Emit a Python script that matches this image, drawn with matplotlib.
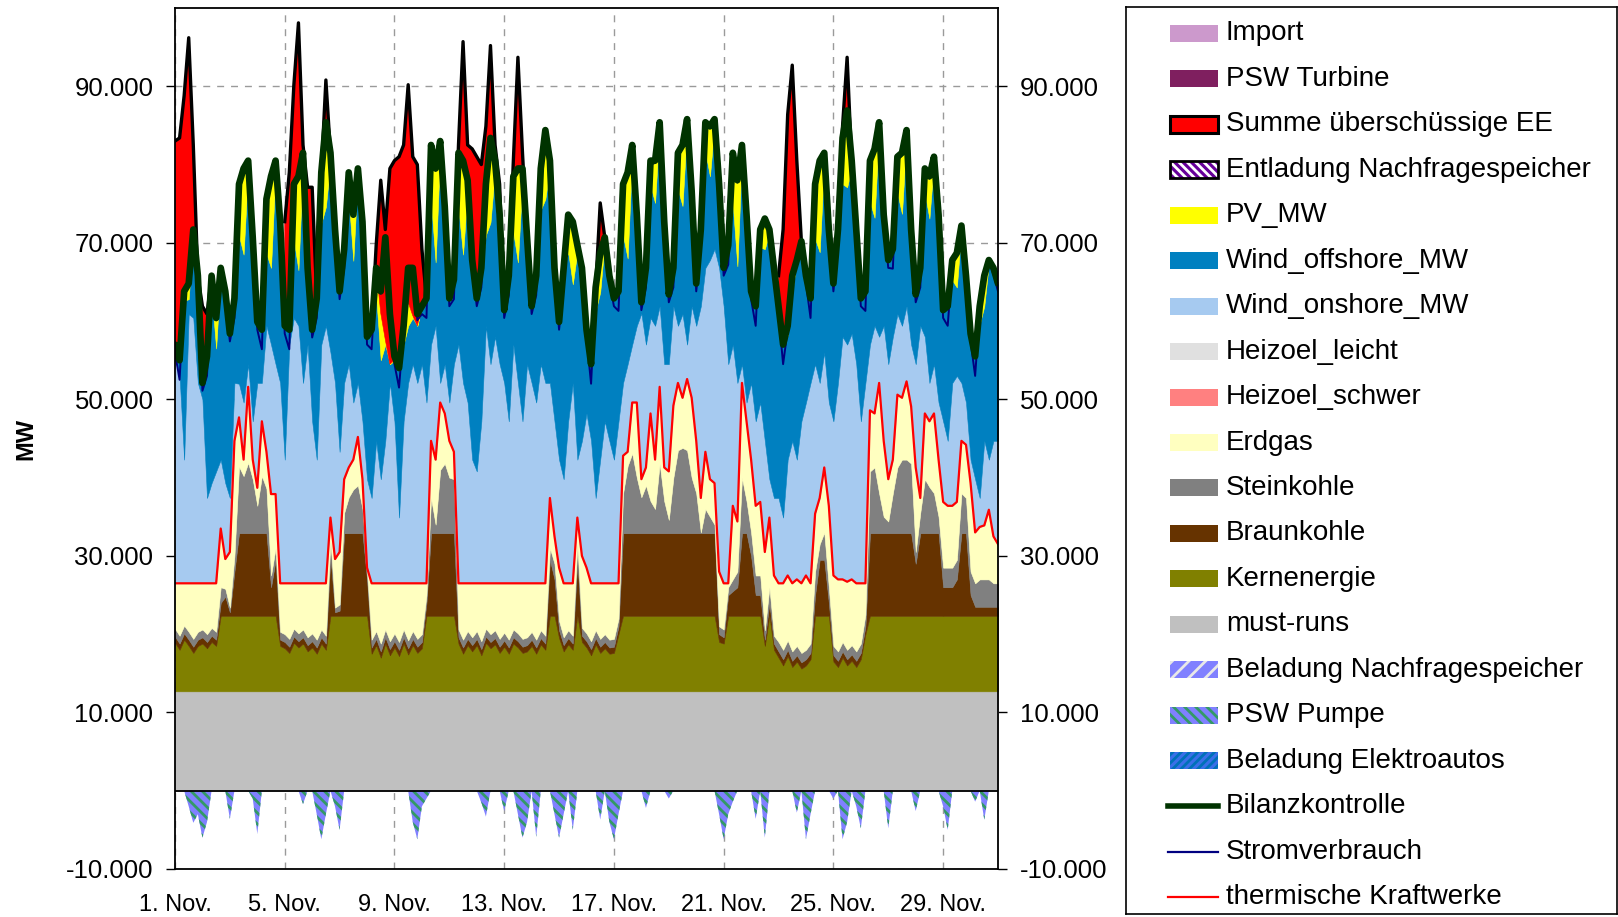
import numpy as np
import matplotlib
matplotlib.use("Agg")
import matplotlib.pyplot as plt
from matplotlib.patches import Rectangle
from matplotlib.lines import Line2D

plt.rcParams['font.family'] = ['Liberation Sans', 'DejaVu Sans']
plt.rcParams['hatch.linewidth'] = 2.0

nan = np.nan
STEP_H = 4  # readings every 4 hours: 0h, 4h, 8h, 12h, 16h, 20h of each day

tick_days = [0, 4, 8, 12, 16, 20, 24, 28]
tick_labels = ['1. Nov.', '5. Nov.', '9. Nov.', '13. Nov.', '17. Nov.', '21. Nov.', '25. Nov.', '29. Nov.']
y_ticks = [-10000, 10000, 30000, 50000, 70000, 90000]
y_labels = ['-10.000', '10.000', '30.000', '50.000', '70.000', '90.000']

must_runs = 12700

# Bilanzkontrolle (MW), per day 0h,4h,8h,12h,16h,20h
bilanz_daily = [
    [57000, 55000, 63800, 64800, 71700, 65800],
    [52100, 55500, 65800, 60400, 66800, 63800],
    [58400, 62900, 77500, 79500, 80500, 70700],
    [59900, 58900, 75600, 78500, 80500, 72700],
    [59400, 58900, 77500, 78500, 81500, 66800],
    [58900, 62900, 79000, 85400, 81500, 71700],
    [63800, 69200, 79000, 73600, 79500, 72700],
    [58000, 58900, 66800, 63800, 70700, 60900],
    [55500, 54000, 59400, 66800, 66800, 60900],
    [61900, 62900, 82500, 79500, 83000, 74600],
    [62900, 65300, 81500, 80500, 78000, 67800],
    [62900, 66800, 77500, 83400, 80500, 73600],
    [61400, 65800, 78500, 79500, 79500, 70700],
    [61900, 65800, 79500, 84400, 80500, 66800],
    [59900, 66800, 73600, 72700, 69700, 66800],
    [58900, 54500, 64300, 68700, 70700, 65800],
    [62900, 63800, 77500, 79000, 82500, 73600],
    [62400, 66800, 80500, 80500, 85400, 72700],
    [63400, 66800, 81500, 82500, 85800, 76600],
    [64800, 71700, 85400, 84900, 85800, 77500],
    [66800, 69700, 81500, 78000, 82500, 73600],
    [63800, 61900, 71700, 73100, 71700, 66800],
    [61900, 57000, 59400, 65800, 67800, 70200],
    [65800, 62900, 77500, 80500, 81500, 71700],
    [64800, 71700, 83400, 86900, 80500, 71700],
    [62900, 63800, 80500, 82000, 85400, 73600],
    [67800, 69200, 81000, 81500, 84400, 71700],
    [63400, 66800, 79500, 78500, 81000, 73600],
    [61400, 61900, 67800, 68700, 72200, 65800],
    [58400, 55500, 61900, 65800, 67800, 66800],
]
bilanz_end = 64800

verbrauch_daily = [
    [56000, 52500, 63300, 64500, 71400, 65000],
    [51100, 53000, 65300, 60100, 66500, 63000],
    [57400, 60400, 77000, 79200, 80200, 69900],
    [58900, 56400, 75100, 78200, 80200, 71900],
    [58400, 56400, 77000, 78200, 81200, 66000],
    [57900, 60400, 78500, 85100, 81200, 70900],
    [62800, 66700, 78500, 73300, 79200, 71900],
    [57000, 56400, 66300, 63500, 70400, 60100],
    [54500, 51500, 58900, 66500, 66500, 60100],
    [60900, 60400, 82000, 79200, 82700, 73800],
    [61900, 62800, 81000, 80200, 77700, 67000],
    [61900, 64300, 77000, 83100, 80200, 72800],
    [60400, 63300, 78000, 79200, 79200, 69900],
    [60900, 63300, 79000, 84100, 80200, 66000],
    [58900, 64300, 73100, 72400, 69400, 66000],
    [57900, 52000, 63800, 68400, 70400, 65000],
    [61900, 61300, 77000, 78700, 82200, 72800],
    [61400, 64300, 80000, 80200, 85100, 71900],
    [62400, 64300, 81000, 82200, 85500, 75800],
    [63800, 69200, 84900, 84600, 85500, 76700],
    [65800, 67200, 81000, 77700, 82200, 72800],
    [62800, 59400, 71200, 72800, 71400, 66000],
    [60900, 54500, 58900, 65500, 67500, 69400],
    [64800, 60400, 77000, 80200, 81200, 70900],
    [63800, 69200, 82900, 86600, 80200, 70900],
    [61900, 61300, 80000, 81700, 85100, 72800],
    [66800, 66700, 80500, 81200, 84100, 70900],
    [62400, 64300, 79000, 78200, 80700, 72800],
    [60400, 59400, 67300, 68400, 71900, 65000],
    [57400, 53000, 61400, 65500, 67500, 66000],
]
verbrauch_end = 63800

# top of the "Summe ueberschuessige EE" area (nan = none)
surplus_daily = [
    [83000, 83400, 88800, 96200, 82500, 65800],
    [61900, 60900, 65800, nan, nan, nan],
    [nan, nan, nan, nan, nan, nan],
    [nan, nan, nan, nan, nan, nan],
    [72700, 79000, 90200, 98100, 82500, 77100],
    [77100, 62900, 79000, 90800, 81500, nan],
    [nan, nan, nan, nan, nan, nan],
    [nan, 58900, 69700, 78000, 71700, 79500],
    [80500, 81000, 82500, 90200, 81000, 80000],
    [69200, 62900, nan, nan, nan, nan],
    [nan, 65300, 82500, 95700, 82500, 82000],
    [81000, 80000, 84900, 95200, 82500, 77500],
    [61400, 65800, 80500, 93700, 81500, 70700],
    [nan, nan, nan, nan, nan, nan],
    [nan, nan, nan, nan, nan, nan],
    [nan, nan, 64300, 75100, 70700, nan],
    [nan, nan, nan, nan, nan, nan],
    [nan, nan, nan, nan, nan, nan],
    [nan, nan, nan, nan, nan, nan],
    [nan, nan, nan, nan, nan, nan],
    [nan, nan, nan, nan, nan, nan],
    [nan, nan, nan, nan, nan, nan],
    [65800, 71700, 86400, 92700, 80500, 70200],
    [nan, nan, nan, nan, nan, nan],
    [nan, 71700, 84900, 93700, 80500, nan],
    [nan, nan, nan, nan, nan, nan],
    [nan, nan, nan, nan, nan, nan],
    [nan, nan, nan, nan, nan, nan],
    [nan, nan, nan, nan, nan, nan],
    [nan, nan, nan, nan, nan, nan],
]
surplus_end = nan

pv_daily = [
    [0, 0, 1200, 2000, 200, 0], [0, 0, 2300, 3900, 400, 0], [0, 0, 6600, 11000, 1100, 0],
    [0, 0, 7000, 11700, 1200, 0], [0, 0, 7200, 12000, 1200, 0], [0, 0, 6500, 10800, 1100, 0],
    [0, 0, 3500, 5900, 600, 0], [0, 0, 3600, 6000, 600, 0], [0, 0, 1800, 3000, 300, 0],
    [0, 0, 7200, 12000, 1200, 0], [0, 0, 7200, 12000, 1200, 0], [0, 0, 6500, 10800, 1100, 0],
    [0, 0, 7200, 12000, 1200, 0], [0, 0, 5300, 8800, 900, 0], [0, 0, 4800, 8000, 800, 0],
    [0, 0, 3000, 5000, 500, 0], [0, 0, 6600, 11000, 1100, 0], [0, 0, 3200, 5400, 500, 0],
    [0, 0, 4700, 7800, 800, 0], [0, 0, 3800, 6400, 600, 0], [0, 0, 6600, 11000, 1100, 0],
    [0, 0, 2300, 3900, 400, 0], [0, 0, 1200, 2000, 200, 0], [0, 0, 7000, 11700, 1200, 0],
    [0, 0, 5900, 9800, 1000, 0], [0, 0, 5300, 8800, 900, 0], [0, 0, 4700, 7800, 800, 0],
    [0, 0, 3200, 5400, 500, 0], [0, 0, 2600, 4400, 400, 0], [0, 0, 2300, 3900, 400, 0],
]
pv_end = 0

offshore_top_daily = [
    [57000, 55000, 62600, 62800, 71500, 65800],
    [52100, 55500, 63500, 56500, 66400, 63800],
    [58400, 62900, 70900, 68500, 79400, 70700],
    [59900, 58900, 68600, 66800, 79300, 72700],
    [59400, 58900, 70300, 66500, 80300, 66800],
    [58900, 62900, 72500, 74600, 80400, 71700],
    [63800, 69200, 75500, 67700, 78900, 72700],
    [58000, 58900, 63200, 55000, 57000, 54500],
    [55000, 54000, 57000, 59400, 60400, 59400],
    [61900, 62900, 75300, 67500, 81800, 74600],
    [62900, 65300, 74300, 68500, 76800, 67800],
    [62900, 66800, 71000, 72600, 79400, 73600],
    [61400, 65800, 71300, 67500, 78300, 70700],
    [61900, 65800, 74200, 75600, 79600, 66800],
    [59900, 66800, 68800, 64700, 68900, 66800],
    [58900, 54500, 61300, 63700, 70200, 65800],
    [62900, 63800, 70900, 68000, 81400, 73600],
    [62400, 66800, 77300, 75100, 84900, 72700],
    [63400, 66800, 76800, 74700, 85000, 76600],
    [64800, 71700, 81600, 78500, 85200, 77500],
    [66800, 69700, 74900, 67000, 81400, 73600],
    [63800, 61900, 69400, 69200, 71300, 66800],
    [61900, 57000, 58200, 63800, 67600, 70200],
    [65800, 62900, 70500, 68800, 80300, 71700],
    [64800, 71700, 77500, 77100, 79500, 71700],
    [62900, 63800, 75200, 73200, 84500, 73600],
    [67800, 69200, 76300, 73700, 83600, 71700],
    [63400, 66800, 76300, 73100, 80500, 73600],
    [61400, 61900, 65200, 64300, 71800, 65800],
    [58400, 55500, 59600, 61900, 67400, 66800],
]
offshore_top_end = 64800

onshore_top_daily = [
    [55000, 53000, 42300, 60900, 60400, 52100],
    [50000, 37400, 39300, 40800, 42300, 39300],
    [37400, 52100, 52000, 49600, 54500, 47200],
    [52100, 52100, 59400, 57000, 54500, 52100],
    [42300, 57000, 60400, 59400, 52100, 57000],
    [47200, 42300, 57000, 59400, 56000, 52100],
    [43300, 52100, 54500, 49600, 52100, 47200],
    [39800, 37400, 44700, 39800, 44700, 52100],
    [47200, 34900, 47200, 52100, 54500, 52100],
    [54500, 49600, 57000, 59400, 52100, 54500],
    [49600, 54500, 57000, 52100, 49600, 42300],
    [40800, 47200, 59400, 54500, 58000, 54500],
    [52100, 47200, 57000, 52100, 47200, 54500],
    [52100, 49600, 54500, 52100, 52100, 47200],
    [42300, 39800, 47200, 52100, 42300, 44700],
    [48200, 44700, 37400, 42300, 47200, 44700],
    [42300, 47200, 52100, 54500, 57000, 59400],
    [61000, 57000, 60400, 59400, 61900, 54500],
    [54500, 61900, 59400, 60900, 57000, 61900],
    [59400, 61900, 66800, 67800, 69200, 66800],
    [61900, 54500, 57000, 52100, 54500, 49600],
    [52100, 47200, 49600, 44700, 39800, 37400],
    [37400, 34900, 42300, 44700, 42300, 47200],
    [49600, 52100, 54500, 52100, 56000, 49600],
    [47200, 52100, 58000, 57000, 58400, 54500],
    [47200, 52100, 57000, 59400, 58000, 59400],
    [54500, 58000, 60900, 59400, 61900, 57000],
    [54500, 59400, 58000, 52100, 54500, 49600],
    [47200, 44700, 52100, 53000, 52100, 49600],
    [42300, 39800, 37400, 44700, 42300, 44700],
]
onshore_top_end = 44700

# thermische Kraftwerke (top of Erdgas)
thermal_daily = [
    [26500, 26500, 26500, 26500, 26500, 26500],
    [26500, 26500, 26500, 26500, 33500, 29600],
    [30500, 44700, 47700, 42300, 51600, 42300],
    [38700, 47200, 43300, 37900, 37900, 26500],
    [26500, 26500, 26500, 26500, 26500, 26500],
    [26500, 26500, 26500, 26500, 34900, 29600],
    [30500, 39800, 41300, 42300, 45200, 39800],
    [28500, 26500, 26500, 26500, 26500, 26500],
    [26500, 26500, 26500, 26500, 26500, 26500],
    [26500, 26500, 44700, 42300, 49600, 48200],
    [44700, 43300, 26500, 26500, 26500, 26500],
    [26500, 26500, 26500, 26500, 26500, 26500],
    [26500, 26500, 26500, 26500, 26500, 26500],
    [26500, 26500, 26500, 26500, 37400, 32500],
    [28500, 26500, 26500, 26500, 34900, 30000],
    [28500, 26500, 26500, 26500, 26500, 26500],
    [26500, 26500, 42800, 43300, 49600, 49600],
    [39800, 41300, 48200, 42300, 51600, 41300],
    [40800, 49200, 52100, 50200, 52600, 50200],
    [44700, 37400, 43300, 39800, 39300, 28000],
    [26500, 26500, 36400, 34400, 52100, 47200],
    [42300, 36400, 36900, 30500, 34900, 27500],
    [26500, 26500, 27500, 26500, 27000, 26500],
    [27500, 26500, 35400, 37400, 41300, 36400],
    [27500, 27000, 27000, 26700, 27000, 26500],
    [26500, 26500, 48600, 48200, 52100, 44700],
    [39800, 42300, 50600, 50200, 52300, 49100],
    [41300, 37400, 48200, 47200, 48200, 42300],
    [36900, 36400, 36400, 36900, 44700, 44200],
    [39300, 33000, 33700, 33900, 35900, 32500],
]
thermal_end = 31500

stein_top_daily = [
    [20700, 19800, 21100, 20300, 19400, 20300],
    [20600, 20000, 20800, 20300, 26000, 25800],
    [23400, 30000, 41400, 40200, 41900, 39800],
    [36400, 40200, 38600, 27500, 31000, 20300],
    [20000, 19400, 20700, 20100, 20600, 19600],
    [20100, 19300, 20600, 19800, 32000, 23400],
    [23800, 35500, 37500, 38500, 39000, 36000],
    [28000, 19300, 20400, 18800, 20600, 19100],
    [20100, 19000, 20600, 19200, 20400, 19400],
    [20000, 25000, 37400, 34000, 41000, 41800],
    [40000, 39800, 20600, 19300, 20400, 19600],
    [20400, 19100, 20700, 20000, 20500, 19400],
    [20200, 19300, 20600, 20100, 19400, 19600],
    [20300, 19300, 20500, 19800, 31000, 29000],
    [21700, 19600, 20500, 19800, 31500, 20800],
    [20100, 19100, 20500, 19400, 20000, 19300],
    [19400, 22000, 38000, 41500, 43100, 40000],
    [37500, 39000, 37000, 36000, 41800, 37000],
    [34600, 40000, 43500, 43800, 43500, 40000],
    [38000, 33000, 36000, 35000, 34000, 21000],
    [20600, 26000, 27000, 28000, 40000, 37000],
    [33000, 27500, 27500, 20500, 26000, 19800],
    [19000, 18000, 19200, 17800, 18500, 17600],
    [18000, 18800, 28000, 31500, 33000, 26000],
    [18500, 17800, 19000, 18000, 18600, 17800],
    [18800, 22500, 40800, 41300, 38000, 35000],
    [34400, 38000, 41300, 42300, 42300, 41800],
    [30500, 35500, 39800, 38800, 38000, 35000],
    [28500, 28500, 28500, 29500, 38000, 37400],
    [28000, 26500, 27000, 27000, 27000, 26500],
]
stein_top_end = 26500

braun_top_daily = [
    [19700, 18800, 20100, 19300, 18400, 19300],
    [19600, 19000, 19800, 19300, 24000, 24800],
    [22800, 28000, 32900, 32900, 32900, 32900],
    [32900, 32900, 32900, 26000, 29500, 19300],
    [19000, 18400, 19700, 19100, 19600, 18600],
    [19100, 18300, 19600, 18800, 30000, 22800],
    [23000, 32900, 32900, 32900, 32900, 32900],
    [27000, 18300, 19400, 17800, 19600, 18100],
    [19100, 18000, 19600, 18200, 19400, 18400],
    [19000, 24000, 32900, 32900, 32900, 32900],
    [32900, 32900, 19600, 18300, 19400, 18600],
    [19400, 18100, 19700, 19000, 19500, 18400],
    [19200, 18300, 19600, 19100, 18400, 18600],
    [19300, 18300, 19500, 18800, 29500, 27000],
    [20500, 18600, 19500, 18800, 29500, 19800],
    [19100, 18100, 19500, 18400, 19000, 18300],
    [18400, 21000, 32900, 32900, 32900, 32900],
    [32900, 32900, 32900, 32900, 32900, 32900],
    [32900, 32900, 32900, 32900, 32900, 32900],
    [32900, 32900, 32900, 32900, 32900, 20000],
    [19600, 25000, 25500, 26000, 32900, 32900],
    [30000, 25000, 25000, 19300, 24000, 18800],
    [17800, 16800, 18000, 16600, 17300, 16400],
    [16800, 17600, 25000, 29500, 29500, 24000],
    [17300, 16600, 17800, 16800, 17400, 16600],
    [17600, 21000, 32900, 32900, 32900, 32900],
    [32900, 32900, 32900, 32900, 32900, 32900],
    [29000, 32900, 32900, 32900, 32900, 32900],
    [26000, 26000, 26000, 27000, 32900, 32900],
    [25000, 23500, 23500, 23500, 23500, 23500],
]
braun_top_end = 23500

kern_top_daily = [
    [18900, 18000, 19300, 18500, 17600, 18500],
    [18800, 18200, 19000, 18500, 22350, 22350],
    [22350, 22350, 22350, 22350, 22350, 22350],
    [22350, 22350, 22350, 22350, 22350, 18500],
    [18200, 17600, 18900, 18300, 18800, 17800],
    [18300, 17500, 18800, 18000, 22350, 22350],
    [22350, 22350, 22350, 22350, 22350, 22350],
    [22350, 17500, 18600, 17000, 18800, 17300],
    [18300, 17200, 18800, 17400, 18600, 17600],
    [18200, 22350, 22350, 22350, 22350, 22350],
    [22350, 22350, 18800, 17500, 18600, 17800],
    [18600, 17300, 18900, 18200, 18700, 17600],
    [18400, 17500, 18800, 18300, 17600, 17800],
    [18500, 17500, 18700, 18000, 22350, 22350],
    [19500, 17800, 18700, 18000, 22350, 19000],
    [18300, 17300, 18700, 17600, 18200, 17500],
    [17600, 20000, 22350, 22350, 22350, 22350],
    [22350, 22350, 22350, 22350, 22350, 22350],
    [22350, 22350, 22350, 22350, 22350, 22350],
    [22350, 22350, 22350, 22350, 22350, 19000],
    [18800, 22350, 22350, 22350, 22350, 22350],
    [22350, 22350, 22350, 18500, 22350, 18000],
    [17000, 16000, 17200, 15800, 16500, 15600],
    [16000, 16800, 22350, 22350, 22350, 22350],
    [16500, 15800, 17000, 16000, 16600, 15800],
    [16800, 20000, 22350, 22350, 22350, 22350],
    [22350, 22350, 22350, 22350, 22350, 22350],
    [22350, 22350, 22350, 22350, 22350, 22350],
    [22350, 22350, 22350, 22350, 22350, 22350],
    [22350, 22350, 22350, 22350, 22350, 22350],
]
kern_top_end = 22350

pumpe_daily = [
    [0, 0, 0, -2000, -4100, -3000],
    [-6000, -4000, 0, 0, 0, 0],
    [-3600, 0, 0, 0, 0, -1000],
    [-5500, 0, 0, 0, 0, 0],
    [0, 0, 0, 0, -1700, 0],
    [0, -3000, -6200, -3000, 0, -2000],
    [-5000, 0, 0, 0, 0, 0],
    [0, 0, 0, 0, 0, 0],
    [0, 0, 0, 0, -4000, -6200],
    [-2000, -1000, 0, 0, 0, 0],
    [0, 0, 0, 0, 0, 0],
    [0, -1500, -3300, 0, 0, 0],
    [-2600, 0, 0, -3000, -6000, -4000],
    [0, -5900, 0, 0, 0, -3000],
    [-6000, -3000, 0, -5000, 0, 0],
    [0, 0, 0, -3700, 0, -4000],
    [-6200, -3000, 0, 0, 0, 0],
    [0, -2200, 0, 0, 0, 0],
    [-1000, 0, 0, 0, 0, 0],
    [0, 0, 0, 0, 0, -3000],
    [-6200, -3000, -1400, 0, 0, 0],
    [0, -3600, 0, -6000, 0, 0],
    [0, 0, 0, 0, -2800, 0],
    [-6200, -3000, 0, 0, 0, 0],
    [-1000, 0, -6200, -4000, 0, -2000],
    [-4800, 0, 0, 0, 0, 0],
    [-4800, 0, 0, 0, 0, 0],
    [-2600, 0, 0, 0, 0, 0],
    [-2000, -5000, 0, 0, 0, 0],
    [0, -1400, 0, -3700, 0, 0],
]
pumpe_end = 0


def series(daily, last):
    return np.array([v for day in daily for v in day] + [last], dtype=float)


bilanz = series(bilanz_daily, bilanz_end)
verbrauch = series(verbrauch_daily, verbrauch_end)
surplus_top = series(surplus_daily, surplus_end)
pv = series(pv_daily, pv_end)
offshore_top = series(offshore_top_daily, offshore_top_end)
onshore_top = series(onshore_top_daily, onshore_top_end)
thermal = series(thermal_daily, thermal_end)
stein_top = series(stein_top_daily, stein_top_end)
braun_top = series(braun_top_daily, braun_top_end)
kern_top = series(kern_top_daily, kern_top_end)
pumpe = series(pumpe_daily, pumpe_end)

hours = np.arange(len(bilanz)) * STEP_H
x = hours / 24.0
pv_top = offshore_top + pv
base = np.zeros_like(x)
mr = np.full_like(x, must_runs)

W, H = 1618, 917
fig = plt.figure(figsize=(W / 100, H / 100), dpi=100)
ax = fig.add_axes([175 / W, 1 - 869 / H, (998 - 175) / W, (869 - 8) / H])

def band(lo, hi, color, **kw):
    ax.fill_between(x, lo, hi, facecolor=color, edgecolor=color, linewidth=0.4, zorder=2, **kw)

band(base, mr, '#c0c0c0')
band(mr, kern_top, '#808000')
band(kern_top, braun_top, '#663300')
band(braun_top, stein_top, '#808080')
band(stein_top, thermal, '#ffffc0')
band(thermal, onshore_top, '#a6caf0')
band(onshore_top, offshore_top, '#0080c0')
band(offshore_top, pv_top, '#ffff00')
valid = ~np.isnan(surplus_top)
ax.fill_between(x, pv_top, np.where(valid, surplus_top, pv_top), where=valid,
                facecolor='#ff0000', edgecolor='#ff0000', linewidth=0.4, zorder=2.5)
ax.plot(x, surplus_top, color='black', lw=2.4, zorder=3)

ax.fill_between(x, pumpe, 0, facecolor='#8080ff', edgecolor='#339966', hatch='\\\\\\',
                linewidth=0, zorder=2)

ax.plot(x, thermal, color='#ff0000', lw=1.6, zorder=4)
ax.plot(x, verbrauch, color='#000080', lw=1.4, zorder=4)
ax.plot(x, bilanz, color='#003300', lw=4.8, zorder=5, solid_joinstyle='round',
        solid_capstyle='round')
ax.axhline(0, color='black', lw=1.3, zorder=6)

ax.set_xlim(0, 30)
ax.set_ylim(-10000, 100000)
ax.set_xticks(tick_days)
ax.set_xticklabels(tick_labels)
ax.set_yticks(y_ticks)
ax.set_yticklabels(y_labels)
ax.grid(True, color='#9a9a9a', linestyle=(0, (5, 5)), linewidth=1.0)
ax.set_axisbelow(True)
ax.tick_params(axis='y', direction='out', length=6.5, width=1.0, labelsize=18.5,
               left=True, right=True, labelleft=True, labelright=True, pad=9)
ax.tick_params(axis='x', length=0, labelsize=17, pad=18)
for s in ax.spines.values():
    s.set_color('black')
    s.set_linewidth(1.3)
    s.set_zorder(7)

fig.text(26 / W, 1 - 439 / H, 'MW', rotation=90, fontsize=17, fontweight='bold',
         ha='center', va='center')

# legend drawn in its own axes (pixel coordinates)
lx0, ly0, lx1, ly1 = 1126, 7, 1617, 914
lax = fig.add_axes([lx0 / W, 1 - ly1 / H, (lx1 - lx0) / W, (ly1 - ly0) / H])
lax.set_xlim(lx0, lx1)
lax.set_ylim(ly1, ly0)
lax.set_xticks([])
lax.set_yticks([])
for s in lax.spines.values():
    s.set_color('black')
    s.set_linewidth(1.2)

entries = [
    ('Import', 'patch', dict(fc='#cc99cc')),
    ('PSW Turbine', 'patch', dict(fc='#7f1f5f')),
    ('Summe überschüssige EE', 'patch', dict(fc='#ff0000', ec='black', lw=2.2)),
    ('Entladung Nachfragespeicher', 'hatch', dict(fc='#660099', hc='#ffffff', h='\\\\\\\\', ec='black')),
    ('PV_MW', 'patch', dict(fc='#ffff00')),
    ('Wind_offshore_MW', 'patch', dict(fc='#0080c0')),
    ('Wind_onshore_MW', 'patch', dict(fc='#a6caf0')),
    ('Heizoel_leicht', 'patch', dict(fc='#e0e0e0')),
    ('Heizoel_schwer', 'patch', dict(fc='#ff8080')),
    ('Erdgas', 'patch', dict(fc='#ffffc0')),
    ('Steinkohle', 'patch', dict(fc='#808080')),
    ('Braunkohle', 'patch', dict(fc='#663300')),
    ('Kernenergie', 'patch', dict(fc='#808000')),
    ('must-runs', 'patch', dict(fc='#c0c0c0')),
    ('Beladung Nachfragespeicher', 'hatch', dict(fc='#8080ff', hc='#e8e8e8', h='//', ec=None)),
    ('PSW Pumpe', 'hatch', dict(fc='#8080ff', hc='#339966', h='\\\\\\', ec=None)),
    ('Beladung Elektroautos', 'hatch', dict(fc='#3a6fe8', hc='#0070b8', h='////', ec=None)),
    ('Bilanzkontrolle', 'line', dict(c='#003300', lw=4.0)),
    ('Stromverbrauch', 'line', dict(c='#000080', lw=1.6)),
    ('thermische Kraftwerke', 'line', dict(c='#ff0000', lw=1.6)),
]
y0, dy = 33.5, 45.45
hx0, hw, hh = 1170, 48, 17
for i, (lab, kind, p) in enumerate(entries):
    yc = y0 + i * dy
    if kind == 'patch':
        lax.add_patch(Rectangle((hx0, yc - hh / 2), hw, hh, facecolor=p['fc'],
                                edgecolor=p.get('ec', p['fc']), linewidth=p.get('lw', 0)))
    elif kind == 'hatch':
        lax.add_patch(Rectangle((hx0, yc - hh / 2), hw, hh, facecolor=p['fc'],
                                edgecolor=p['hc'], hatch=p['h'], linewidth=0))
        if p['ec']:
            lax.add_patch(Rectangle((hx0, yc - hh / 2), hw, hh, fill=False,
                                    edgecolor=p['ec'], linewidth=2.0))
    else:
        lax.add_line(Line2D([hx0 - 2, hx0 + hw], [yc, yc], color=p['c'], linewidth=p['lw']))
    lax.text(1226, yc, lab, fontsize=20, ha='left', va='center')

fig.savefig('out.png', dpi=100)
